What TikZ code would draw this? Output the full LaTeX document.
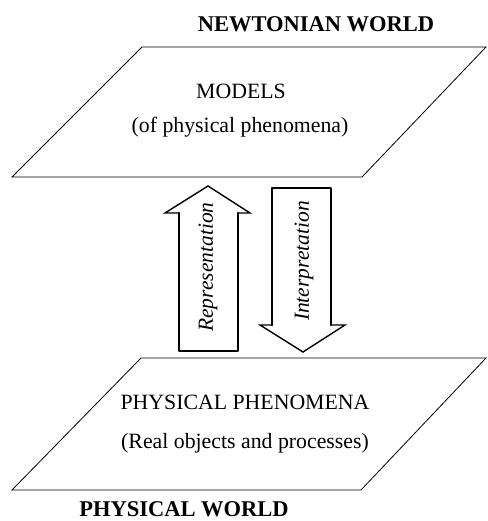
\documentclass[tikz,border=0pt]{standalone}
\usepackage{fontspec}
\setmainfont{Liberation Serif}
\begin{document}
\begin{tikzpicture}[x=1pt,y=-1pt,
  plane/.style={draw,line width=0.8pt,line join=miter},
  title/.style={font=\fontsize{22.5}{26}\selectfont\bfseries,anchor=base,inner sep=0pt},
  lbl/.style={font=\fontsize{21.8}{24}\selectfont,anchor=base,inner sep=0pt},
  arrlbl/.style={font=\fontsize{21.5}{24}\selectfont\itshape,rotate=90,inner sep=0pt},
  shaft/.style={line width=2.6pt,line cap=round,line join=round},
  head/.style={line width=1.4pt,line cap=round,line join=miter}]
\useasboundingbox (0,0) rectangle (487,521);
% top plane
\coordinate (t1) at (142,47);
\coordinate (t2) at (486,47);
\coordinate (t3) at (362,177);
\coordinate (t4) at (12,177);
\draw[plane] (t1) -- (t2) -- (t3) -- (t4) -- cycle;
% bottom plane
\coordinate (b1) at (141,358);
\coordinate (b2) at (486,358);
\coordinate (b3) at (361,490);
\coordinate (b4) at (12,490);
\draw[plane] (b1) -- (b2) -- (b3) -- (b4) -- cycle;
% texts
\node[title] (nw) at (316,32) {NEWTONIAN WORLD};
\node[lbl] (mod) at (241,99) {MODELS};
\node[lbl] (ofp) at (240,133) {(of physical phenomena)};
\node[lbl] (pp) at (245,409) {PHYSICAL PHENOMENA};
\node[lbl] (rop) at (245,448) {(Real objects and processes)};
\node[title] (pw) at (184,516) {PHYSICAL WORLD};
% up arrow (Representation)
\coordinate (ut) at (208,186);
\coordinate (uhr) at (250,213);
\coordinate (usr) at (238,213);
\coordinate (ubr) at (238,351);
\coordinate (ubl) at (179,351);
\coordinate (usl) at (179,213);
\coordinate (uhl) at (165,213);
\draw[shaft] (usr) -- (ubr) -- (ubl) -- (usl);
\draw[head] (usl) -- (uhl) -- (ut) -- (uhr) -- (usr);
\node[arrlbl] (rep) at (208,267) {Representation};
% down arrow (Interpretation)
\coordinate (dtl) at (272,188);
\coordinate (dtr) at (331,188);
\coordinate (dsr) at (331,325);
\coordinate (dhr) at (345,325);
\coordinate (dt) at (303,352);
\coordinate (dhl) at (260,325);
\coordinate (dsl) at (272,325);
\draw[shaft] (dsl) -- (dtl) -- (dtr) -- (dsr);
\draw[head] (dsr) -- (dhr) -- (dt) -- (dhl) -- (dsl);
\node[arrlbl] (int) at (304,261) {Interpretation};
\end{tikzpicture}
\end{document}
